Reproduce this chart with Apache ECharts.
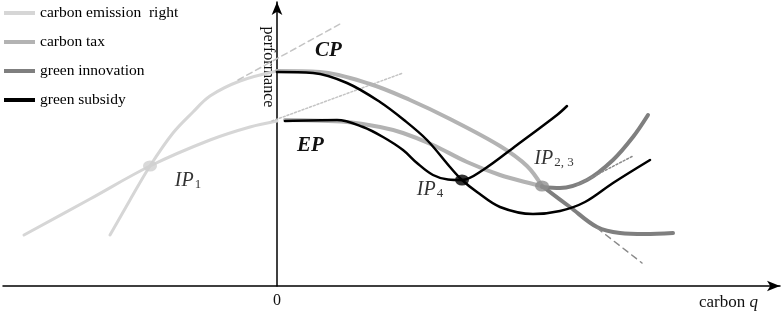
<!DOCTYPE html>
<html>
<head>
<meta charset="utf-8">
<script src="https://cdn.jsdelivr.net/npm/echarts@6/dist/echarts.min.js"></script>
<style>
html,body{margin:0;padding:0;background:#fff;}
#main{width:782px;height:313px;}
</style>
</head>
<body>
<div id="main"></div>
<script>
// curves as [carbon q, performance] pairs (origin at the axes' crossing)
var cerFlat  = [[-253,51],[-187,87],[-127,120],[-67,146],[-27,159],[0,165]];
var cerSteep = [[-167,51],[-147,86],[-127,120],[-104,153],[-84,174],[-67,190],[-37,205],[0,215]];
var cerDash  = [[-39,206],[63,262]];
var cerDot   = [[-5,165],[126,213]];

var taxCP = [[0,215],[43,214],[93,202],[133,186],[173,167],[223,140],[250,120],[265,100]];
var taxEP = [[8,166],[70,164],[103,159],[126,153],[156,141],[190,124],[223,111],[256,102],[265,100]];

var innovUp  = [[265,99],[283,98],[310,106],[336,126],[356,149],[371,171]];
var innovLow = [[265,100],[293,79],[320,59],[343,53],[368,52],[396,53]];
var innovDot  = [[300,101],[356,130]];
var innovDash = [[320,58],[365,23]];

var subCP = [[0,214],[36,213],[70,203],[103,184],[127,166],[150,146],[173,119],[185,106],[200,94],
             [223,79],[256,72],[283,75],[308,84],[336,103],[373,126]];
var subEP = [[8,165],[60,166],[86,159],[106,149],[126,136],[140,123],[156,111],[171,106.5],[185,106],
             [206,116],[240,141],[280,171],[290,180]];

var ipPoints = [[-127,120],[185,106],[265,100]];
var ipSubs   = ['1','4','2, 3'];

var legendNames = ['carbon emission  right','carbon tax','green innovation','green subsidy'];
var legendColors = ['#d6d6d6','#b3b3b3','#7f7f7f','#000000'];

var serif = 'Liberation Serif';

function curve(name, data, color, width, type){
	return {
		name: name,
		type: 'line',
		data: data,
		smooth: type ? false : 0.35,
		showSymbol: false,
		symbol: 'none',
		lineStyle: {color: color, width: width, type: type || 'solid', cap: 'round'},
		itemStyle: {color: color},
		z: 2
	};
}

var ipColors = ['#cfcfcf','#000000','#8e8e8e'];
var ipOffsets = [[38,15],[-32,10],[12,-27]];
var ipData = [];
for (var i = 0; i < ipPoints.length; i++) {
	ipData.push({
		value: ipPoints[i],
		itemStyle: {color: ipColors[i]},
		label: {show: true, offset: ipOffsets[i], formatter: '{i|IP}{s|' + ipSubs[i] + '}'}
	});
}

var series = [
	curve(legendNames[0], cerFlat, '#d6d6d6', 3),
	curve(legendNames[0], cerSteep, '#d6d6d6', 3),
	curve('t1', cerDash, '#c4c4c4', 1.5, [6,4]),
	curve('t2', cerDot, '#c4c4c4', 1.5, [2,2]),
	curve(legendNames[1], taxCP, '#b3b3b3', 4),
	curve(legendNames[1], taxEP, '#b3b3b3', 4),
	curve(legendNames[2], innovUp, '#7f7f7f', 4),
	curve(legendNames[2], innovLow, '#7f7f7f', 4),
	curve('t3', innovDot, '#8a8a8a', 1.5, [2,2]),
	curve('t4', innovDash, '#8a8a8a', 1.5, [6,5]),
	curve(legendNames[3], subCP, '#000', 2.5),
	curve(legendNames[3], subEP, '#000', 2.5),
	{
		name: 'IP',
		type: 'scatter',
		data: ipData,
		symbol: 'circle',
		symbolSize: [14, 11],
		z: 5,
		label: {
			color: '#000',
			rich: {
				i: {fontFamily: serif, fontStyle: 'italic', fontSize: 20, color: '#000'},
				s: {fontFamily: serif, fontSize: 13, color: '#000', padding: [7,0,0,1]}
			}
		}
	}
];

var legendData = [];
for (var j = 0; j < legendNames.length; j++) {
	legendData.push({name: legendNames[j], itemStyle: {color: legendColors[j]}});
}

var option = {
	animation: false,
	backgroundColor: '#fff',
	legend: {
		data: legendData,
		orient: 'vertical',
		left: 4,
		top: 5,
		padding: 0,
		itemGap: 13,
		itemWidth: 31,
		itemHeight: 4,
		icon: 'rect',
		textStyle: {fontFamily: serif, fontSize: 15.5, color: '#000', lineHeight: 16},
		selectedMode: false
	},
	grid: {left: 3, right: 2, top: 2, bottom: 27, outerBoundsMode: 'none', containLabel: false},
	xAxis: {
		type: 'value',
		min: -274,
		max: 503,
		splitLine: {show: false},
		axisTick: {show: false},
		axisLine: {lineStyle: {color: '#000', width: 1.5}, symbol: ['none','arrow'], symbolSize: [8,13]},
		axisLabel: {customValues: [0], fontFamily: serif, fontSize: 16, color: '#111', margin: 7},
		name: 'carbon {i|q}',
		nameLocation: 'end',
		nameGap: -22,
		nameTextStyle: {
			fontFamily: serif, fontSize: 17, color: '#111', align: 'right', verticalAlign: 'top',
			padding: [8,0,0,0],
			rich: {i: {fontFamily: serif, fontSize: 17, fontStyle: 'italic', color: '#111'}}
		}
	},
	yAxis: {
		type: 'value',
		min: 0,
		max: 284,
		splitLine: {show: false},
		axisTick: {show: false},
		axisLabel: {show: false},
		axisLine: {onZero: true, lineStyle: {color: '#000', width: 1.5}, symbol: ['none','arrow'], symbolSize: [8,13]}
	},
	graphic: [
		{type: 'text', left: 315, top: 40, style: {text: 'CP', font: 'italic bold 21px "Liberation Serif"', fill: '#111'}},
		{type: 'text', left: 297, top: 135, style: {text: 'EP', font: 'italic bold 21px "Liberation Serif"', fill: '#111'}},
		{type: 'text', x: 268, y: 67, rotation: -Math.PI / 2,
		 style: {text: 'performance', font: '16px "Liberation Serif"', fill: '#111', align: 'center', verticalAlign: 'middle'}}
	],
	series: series
};

var myChart = echarts.init(document.getElementById('main'));
myChart.setOption(option);
</script>
</body>
</html>
